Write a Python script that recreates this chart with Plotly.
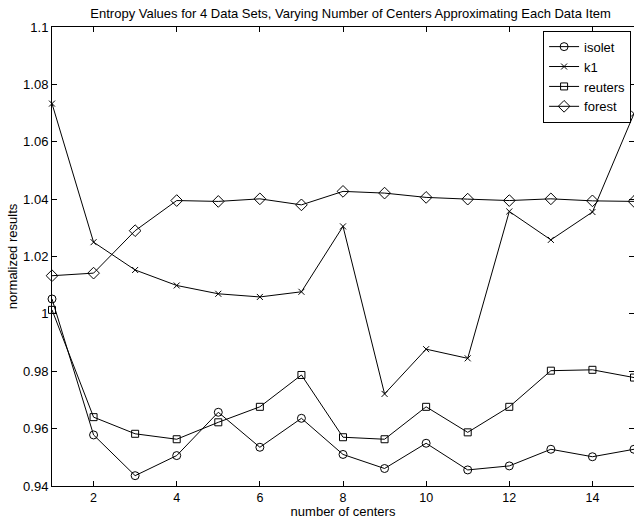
import plotly.graph_objects as go

centers = list(range(1, 16))
isolet = [1.0052, 0.9578, 0.9436, 0.9506, 0.9657, 0.9535, 0.9636, 0.9510, 0.9461, 0.9549, 0.9456, 0.9470, 0.9528, 0.9502, 0.9528]
k1 = [1.0733, 1.0250, 1.0153, 1.0099, 1.0070, 1.0059, 1.0077, 1.0305, 0.9721, 0.9877, 0.9845, 1.0357, 1.0258, 1.0355, 1.0698]
reuters = [1.0014, 0.9640, 0.9582, 0.9563, 0.9622, 0.9676, 0.9787, 0.9570, 0.9563, 0.9676, 0.9587, 0.9676, 0.9802, 0.9805, 0.9778]
forest = [1.0133, 1.0142, 1.0290, 1.0395, 1.0392, 1.0401, 1.0380, 1.0427, 1.0421, 1.0406, 1.0400, 1.0395, 1.0401, 1.0394, 1.0392]

series = [
    ("isolet", isolet, "circle-open", 8),
    ("k1", k1, "x-thin-open", 6),
    ("reuters", reuters, "square-open", 7),
    ("forest", forest, "diamond-open", 9),
]

ytick_vals = [0.94, 0.96, 0.98, 1.0, 1.02, 1.04, 1.06, 1.08, 1.1]
ytick_text = ["0.94", "0.96", "0.98", "1", "1.02", "1.04", "1.06", "1.08", "1.1"]
xtick_vals = [2, 4, 6, 8, 10, 12, 14]

fig = go.Figure()
for name, vals, sym, size in series:
    fig.add_trace(go.Scatter(
        x=centers, y=vals, name=name, mode="lines+markers",
        line=dict(color="black", width=1),
        marker=dict(symbol=sym, size=size, color="black", line=dict(color="black", width=1)),
        cliponaxis=False,
    ))

font = dict(family="Liberation Sans, Arial, sans-serif", size=13, color="black")
fig.update_layout(
    width=634, height=519,
    margin=dict(l=52, r=0, t=27, b=33),
    paper_bgcolor="white", plot_bgcolor="white",
    font=font,
    title=dict(text="Entropy Values for 4 Data Sets, Varying Number of Centers Approximating Each Data Item",
               x=0.553, xanchor="center", y=0.975, yanchor="middle", font=dict(size=13)),
    xaxis=dict(range=[1, 15], tickvals=xtick_vals, ticks="inside", ticklen=5, tickcolor="black",
               tickfont=dict(size=12.5),
               showline=True, linecolor="black", linewidth=1, mirror="ticks", showgrid=False, zeroline=False,
               title=dict(text="number of centers", standoff=3, font=dict(size=13))),
    yaxis=dict(range=[0.94, 1.1], tickvals=ytick_vals, ticktext=ytick_text, ticks="inside", ticklen=5,
               tickcolor="black", showline=True, linecolor="black", linewidth=1, mirror="ticks",
               showgrid=False, zeroline=False,
               title=dict(text="normalized results", standoff=2, font=dict(size=13))),
    legend=dict(x=0.995, xanchor="right", y=0.992, yanchor="top", bgcolor="white",
                bordercolor="black", borderwidth=1, font=dict(size=13),
                tracegroupgap=0, itemwidth=30),
    showlegend=True,
)

fig.write_html("out.html", config={"displayModeBar": False},
               post_script="document.body.style.margin='0';")
